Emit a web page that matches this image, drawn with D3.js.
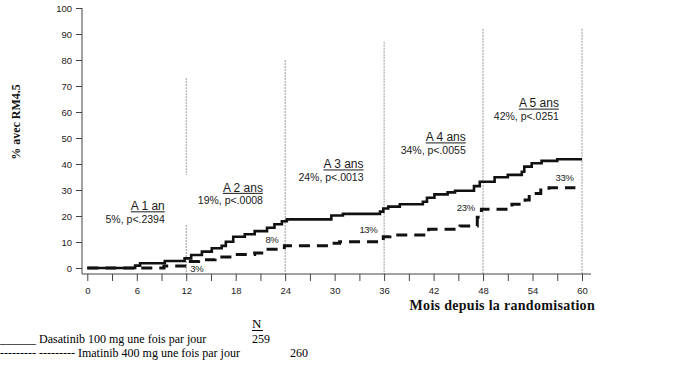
<!DOCTYPE html>
<html>
<head>
<meta charset="utf-8">
<script src="https://cdn.jsdelivr.net/npm/d3@7"></script>
<style>
  body { margin: 0; background: #fff; }
  svg { display: block; }
</style>
</head>
<body>
<script>
// mois / pourcentage cumulé avec RM4.5 (courbes en escalier)
var dasaMonths = [0, 5.8, 6.4, 9.4, 11.8, 12.6, 13.9, 15.1, 16.3, 16.8, 17.7, 19.1, 20.3, 21.8, 22.7, 23.6, 24.2, 29.6, 31, 35.5, 35.9, 36.5, 37.9, 40.7, 41.2, 42.1, 43.7, 44.6, 46.9, 47.6, 49.4, 51, 52.7, 53, 53.9, 55.1, 57, 60];
var dasaValues = [0, 0.9, 1.8, 2.7, 3.7, 5, 6.3, 7.6, 8.5, 10.1, 12, 13, 14.2, 15.5, 16.8, 18, 18.7, 20.2, 20.8, 21.7, 22.9, 23.6, 24.5, 25.5, 27, 28.3, 29.1, 29.7, 31.5, 33.2, 34.9, 35.8, 37, 39, 40.3, 41.2, 41.8, 41.8];
var imaMonths = [0, 9.3, 12, 13.5, 15.5, 17.8, 20.3, 21.4, 23.9, 29.4, 30.6, 35.9, 36.7, 41.4, 45.2, 47.3, 47.8, 51.5, 53.1, 53.6, 55, 56, 59.2];
var imaValues = [0, 0.8, 2.5, 3.2, 4.2, 5.2, 5.8, 7.2, 8.6, 9.5, 10.1, 12, 12.7, 14.9, 16.2, 19.5, 22.6, 24.5, 26.2, 28.7, 30, 30.9, 30.9];

var yTicks = [0, 10, 20, 30, 40, 50, 60, 70, 80, 90, 100];
var xTicks = [0, 6, 12, 18, 24, 30, 36, 42, 48, 54, 60];
var xMinorTicks = [3, 9, 15, 21, 27, 33, 39, 45, 51, 57];

var yearMonths = [12, 24, 36, 48, 60];
var yearLabels = ['A 1 an', 'A 2 ans', 'A 3 ans', 'A 4 ans', 'A 5 ans'];
var dasaPct = ['5%', '19%', '24%', '34%', '42%'];
var pValues = ['p<.2394', 'p<.0008', 'p<.0013', 'p<.0055', 'p<.0251'];
var imaPct = ['3%', '8%', '13%', '23%', '33%'];
var refTops = [73, 80, 87, 92, 92]; // haut des lignes pointillées (en %)

var legendNames = ['Dasatinib 100 mg une fois par jour', 'Imatinib 400 mg une fois par jour'];
var legendN = ['259', '260'];

var w = 691;
var h = 367;

var svg = d3.select('body')
    .append('svg')
    .attr('width', w)
    .attr('height', h);

var x = d3.scaleLinear().domain([0, 60]).range([87.3, 582]);
var y = d3.scaleLinear().domain([0, 100]).range([268, 8]);
var axisY = 274; // ligne de l'axe des x
var axisX = 82;  // ligne de l'axe des y

// lignes verticales pointillées aux années
var refs = svg.append('g');
yearMonths.forEach(function(m, i){
    var segs = [[y(refTops[i]), axisY]];
    if (m === 12) segs = [[y(refTops[i]), 175], [225, axisY]];
    segs.forEach(function(s){
        refs.append('line')
            .attr('x1', x(m)).attr('x2', x(m))
            .attr('y1', s[0]).attr('y2', s[1])
            .attr('stroke', '#9a9a9a')
            .attr('stroke-width', 1)
            .attr('stroke-dasharray', '2,1');
    });
});

// axe des y
svg.append('line')
    .attr('x1', axisX).attr('x2', axisX)
    .attr('y1', y(100)).attr('y2', axisY)
    .attr('stroke', '#444');
var yAxis = svg.append('g')
    .attr('transform', 'translate(' + axisX + ',0)')
    .call(d3.axisLeft(y).tickValues(yTicks).tickSize(6).tickPadding(4));
yAxis.select('.domain').remove();
yAxis.selectAll('line').attr('stroke', '#444');
yAxis.selectAll('text')
    .attr('font-family', 'Liberation Sans, Arial, sans-serif')
    .attr('font-size', '9.5px')
    .attr('fill', '#222');

// axe des x
svg.append('line')
    .attr('x1', axisX).attr('x2', 591)
    .attr('y1', axisY).attr('y2', axisY)
    .attr('stroke', '#444');
var xAxis = svg.append('g')
    .attr('transform', 'translate(0,' + axisY + ')')
    .call(d3.axisBottom(x).tickValues(xTicks).tickSize(7).tickPadding(6));
xAxis.select('.domain').remove();
xAxis.selectAll('line').attr('stroke', '#444');
xAxis.selectAll('text')
    .attr('font-family', 'Liberation Sans, Arial, sans-serif')
    .attr('font-size', '9.5px')
    .attr('fill', '#222');
svg.append('g')
    .attr('transform', 'translate(0,' + axisY + ')')
    .call(d3.axisBottom(x).tickValues(xMinorTicks).tickSize(7).tickFormat(''))
    .call(function(g){ g.select('.domain').remove(); g.selectAll('line').attr('stroke', '#444'); });

// courbes
var line = d3.line()
    .x(function(d){ return x(d[0]); })
    .y(function(d){ return y(d[1]); })
    .curve(d3.curveStepAfter);

svg.append('path')
    .datum(d3.zip(imaMonths, imaValues))
    .attr('d', line)
    .attr('fill', 'none')
    .attr('stroke', '#111')
    .attr('stroke-width', 3)
    .attr('stroke-dasharray', '11,7');

svg.append('path')
    .datum(d3.zip(dasaMonths, dasaValues))
    .attr('d', line)
    .attr('fill', 'none')
    .attr('stroke', '#111')
    .attr('stroke-width', 2.6);

// annotations par année (position du bloc de texte : mois, % du titre)
var annotPos = [[9.4, 22.3], [21.3, 29.4], [33.5, 38.4], [45.9, 48.8], [57.2, 61.8]];
yearLabels.forEach(function(lbl, i){
    var ax = x(annotPos[i][0]);
    var ay = y(annotPos[i][1]);
    var t = svg.append('text')
        .attr('x', ax).attr('y', ay)
        .attr('text-anchor', 'end')
        .attr('font-family', 'Liberation Sans, Arial, sans-serif')
        .attr('font-size', '12px')
        .attr('fill', '#1a1a1a')
        .text(lbl);
    var len = t.node().getComputedTextLength();
    svg.append('line')
        .attr('x1', ax - len).attr('x2', ax)
        .attr('y1', ay + 1.8).attr('y2', ay + 1.8)
        .attr('stroke', '#1a1a1a')
        .attr('stroke-width', 1);
    svg.append('text')
        .attr('x', ax).attr('y', ay + 12.8)
        .attr('text-anchor', 'end')
        .attr('font-family', 'Liberation Sans, Arial, sans-serif')
        .attr('font-size', '10.5px')
        .attr('fill', '#1a1a1a')
        .text(dasaPct[i] + ', ' + pValues[i]);
});

// % imatinib près de la courbe pointillée
var imaPos = [[12.5, -1.4], [21.6, 9.6], [33.0, 13.4], [44.8, 21.8], [56.8, 33.3]];
imaPct.forEach(function(lbl, i){
    svg.append('text')
        .attr('x', x(imaPos[i][0])).attr('y', y(imaPos[i][1]))
        .attr('font-family', 'Liberation Sans, Arial, sans-serif')
        .attr('font-size', '9.5px')
        .attr('letter-spacing', '-0.3px')
        .attr('fill', '#222')
        .text(lbl);
});

// titres des axes
svg.append('text')
    .attr('transform', 'translate(20,122) rotate(-90)')
    .attr('text-anchor', 'middle')
    .attr('font-family', 'Liberation Serif, Times New Roman, serif')
    .attr('font-weight', 'bold')
    .attr('font-size', '12px')
    .attr('fill', '#111')
    .text('% avec RM4.5');

svg.append('text')
    .attr('x', 595).attr('y', 310)
    .attr('text-anchor', 'end')
    .attr('font-family', 'Liberation Serif, Times New Roman, serif')
    .attr('font-weight', 'bold')
    .attr('font-size', '14px')
    .attr('letter-spacing', '0.3px')
    .attr('fill', '#111')
    .text('Mois depuis la randomisation');

// légende
var serif = 'Liberation Serif, Times New Roman, serif';
svg.append('text')
    .attr('x', 252).attr('y', 328)
    .attr('font-family', serif)
    .attr('font-size', '13px')
    .text('N');
svg.append('line')
    .attr('x1', 252).attr('x2', 263)
    .attr('y1', 330.5).attr('y2', 330.5)
    .attr('stroke', '#000');

svg.append('text')
    .attr('x', 0).attr('y', 343.3)
    .attr('font-family', serif)
    .attr('font-size', '12px')
    .text('______ ' + legendNames[0]);
svg.append('text')
    .attr('x', 252).attr('y', 343.3)
    .attr('font-family', serif)
    .attr('font-size', '12px')
    .text(legendN[0]);

svg.append('text')
    .attr('x', 0).attr('y', 356.7)
    .attr('font-family', serif)
    .attr('font-size', '12px')
    .text('--------- --------- ' + legendNames[1]);
svg.append('text')
    .attr('x', 290).attr('y', 356.7)
    .attr('font-family', serif)
    .attr('font-size', '12px')
    .text(legendN[1]);
</script>
</body>
</html>
